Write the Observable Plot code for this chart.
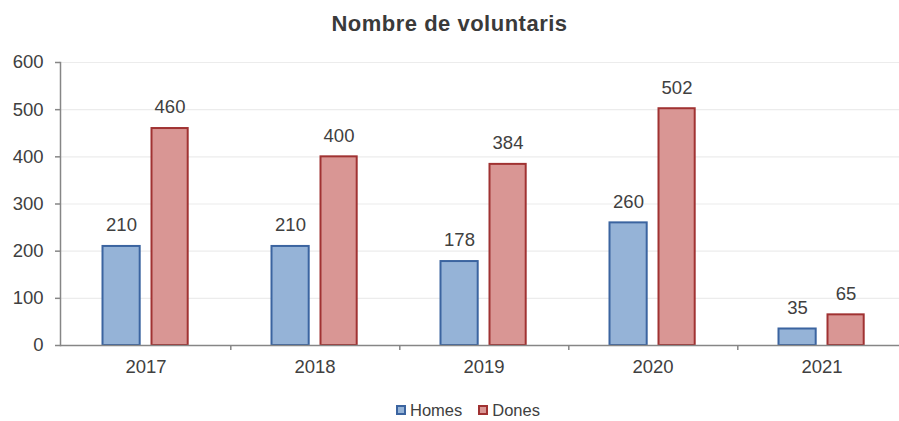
<!DOCTYPE html>
<html>
<head>
<meta charset="utf-8">
<script src="https://cdn.jsdelivr.net/npm/d3@7"></script>
<script src="https://cdn.jsdelivr.net/npm/@observablehq/plot@0.6"></script>
<style>
  body { margin: 0; background: #fff; font-family: "Liberation Sans", Arial, sans-serif; color: #404040; width: 899px; height: 421px; overflow: hidden; position: relative; }
  #title { height: 45px; box-sizing: border-box; padding-top: 11px; text-align: center; font-weight: bold; font-size: 22px; letter-spacing: 0.5px; line-height: 26px; color: #3a3a3a; }
  #legend { position: absolute; left: 396px; top: 400px; display: flex; align-items: center; font-size: 16.5px; line-height: 20px; color: #404040; }
  .sw { width: 6px; height: 6px; border: 2px solid; margin-right: 4px; }
  .item { display: flex; align-items: center; margin-right: 16px; }
  svg { display: block; }
</style>
</head>
<body>
<div id="title">Nombre de voluntaris</div>
<div id="chart"></div>
<div id="legend"></div>
<script>
const years = ["2017", "2018", "2019", "2020", "2021"];
const seriesNames = ["Homes", "Dones"];
const homes = [210, 210, 178, 260, 35];
const dones = [460, 400, 384, 502, 65];
const yTicks = [0, 100, 200, 300, 400, 500, 600];

const fills = { Homes: "#95B3D7", Dones: "#D99694" };
const strokes = { Homes: "#3B64A0", Dones: "#A03232" };

const homesData = years.map((y, i) => ({ year: y, series: "Homes", value: homes[i] }));
const donesData = years.map((y, i) => ({ year: y, series: "Dones", value: dones[i] }));
const boundaries = years.slice(0, -1);

const textColor = "#404040";
const axisColor = "#868686";
const band = (907.5 - 59.5) / years.length;
const fs = 18.5;

const chart = Plot.plot({
  width: 899,
  height: 340,
  marginTop: 17,
  marginBottom: 40,
  marginLeft: 60,
  marginRight: 0,
  style: { fontFamily: '"Liberation Sans", Arial, sans-serif', color: textColor, background: "#fff", overflow: "visible" },
  x: { type: "band", domain: years, range: [59.5, 907.5], padding: 0 },
  y: { domain: [0, 600], ticks: yTicks },
  marks: [
    Plot.gridY(yTicks, { stroke: "#ececec", strokeOpacity: 1, strokeWidth: 1.2 }),
    Plot.axisY(yTicks, { tickSize: 5, tickPadding: 12, fontSize: fs, stroke: axisColor, strokeWidth: 1.5, fill: textColor, label: null }),
    Plot.axisX({ tickSize: 0, tickPadding: 14, fontSize: fs, fill: textColor, label: null }),
    Plot.barY(homesData, { x: "year", y: "value", fill: fills.Homes, stroke: strokes.Homes, strokeWidth: 2, insetLeft: 41.5, insetRight: band - 79.3 }),
    Plot.barY(donesData, { x: "year", y: "value", fill: fills.Dones, stroke: strokes.Dones, strokeWidth: 2, insetLeft: 90.5, insetRight: band - 127.3 }),
    Plot.text(homesData, { x: "year", y: "value", text: d => String(d.value), dx: -24.5, dy: -21, fontSize: fs, fill: textColor, lineAnchor: "middle" }),
    Plot.text(donesData, { x: "year", y: "value", text: d => String(d.value), dx: 24, dy: -21, fontSize: fs, fill: textColor, lineAnchor: "middle" }),
    Plot.ruleY([0], { stroke: axisColor, strokeWidth: 1.5 }),
    Plot.frame({ anchor: "left", stroke: axisColor, strokeWidth: 1.5 }),
    Plot.ruleX(boundaries, { x: d => d, dx: band / 2, y1: 0, y2: -10.6, stroke: axisColor, strokeWidth: 1.5 })
  ]
});
document.getElementById("chart").appendChild(chart);

const legend = document.getElementById("legend");
seriesNames.forEach(s => {
  const item = document.createElement("div");
  item.className = "item";
  const sw = document.createElement("div");
  sw.className = "sw";
  sw.style.background = fills[s];
  sw.style.borderColor = strokes[s];
  const t = document.createElement("span");
  t.textContent = s;
  item.appendChild(sw);
  item.appendChild(t);
  legend.appendChild(item);
});
</script>
</body>
</html>
